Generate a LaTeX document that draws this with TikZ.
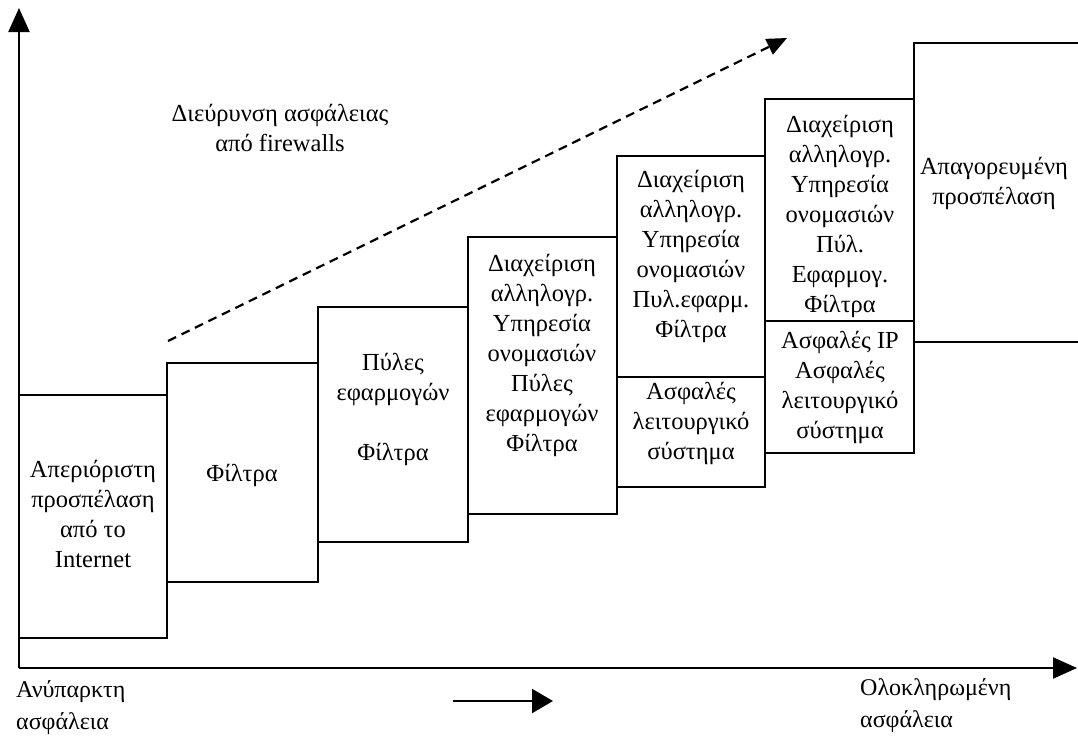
\documentclass[tikz,border=0pt]{standalone}
\usepackage{fontspec}
\setmainfont{Liberation Serif}
\usetikzlibrary{arrows.meta}
\begin{document}
\begin{tikzpicture}[x=1pt,y=-1pt,
  boxline/.style={line width=2pt},
  lbl/.style={font=\fontsize{24.5}{30}\selectfont, align=center, inner sep=0pt},
  axislbl/.style={font=\fontsize{24}{32}\selectfont, align=left, inner sep=0pt, anchor=west},
  axisarrow/.style={line width=2.2pt, -{Triangle[length=24pt,width=21pt]}},
  trendarrow/.style={line width=2.2pt, dash pattern=on 9pt off 6pt, -{Triangle[length=20pt,width=17pt]}},
  smallarrow/.style={line width=2.2pt, -{Triangle[length=21pt,width=24pt]}}
  ]
\useasboundingbox (0,0) rectangle (1078,744);
\fill[white] (0,0) rectangle (1078,744);

% axes
\coordinate (O) at (19,668);
\coordinate (ytop) at (19,8);
\coordinate (xend) at (1077,668);
\draw[axisarrow] (O) -- (ytop);
\draw[axisarrow] (O) -- (xend);

% staircase of boxes
\draw[boxline] (19,395) rectangle (167,638);
\draw[boxline] (167,363) rectangle (318,582);
\draw[boxline] (318,307) rectangle (468,542);
\draw[boxline] (468,237) rectangle (617,514);
\draw[boxline] (617,156) rectangle (765,487);
\draw[boxline] (617,377) -- (765,377);
\draw[boxline] (765,99) rectangle (914,453);
\draw[boxline] (765,321) -- (914,321);
\draw[boxline] (1078,43) -- (914,43) -- (914,342) -- (1078,342);

% box texts
\node[lbl] (t1) at (93,514) {Απεριόριστη\\προσπέλαση\\από το\\Internet};
\node[lbl] (t2) at (242,475) {Φίλτρα};
\node[lbl] (t3) at (393,409) {Πύλες\\εφαρμογών\\~\\Φίλτρα};
\node[lbl] (t4) at (542,355) {Διαχείριση\\αλληλογρ.\\Υπηρεσία\\ονομασιών\\Πύλες\\εφαρμογών\\Φίλτρα};
\node[lbl] (t5a) at (691,256) {Διαχείριση\\αλληλογρ.\\Υπηρεσία\\ονομασιών\\Πυλ.εφαρμ.\\Φίλτρα};
\node[lbl] (t5b) at (691,423) {Ασφαλές\\λειτουργικό\\σύστημα};
\node[lbl] (t6a) at (840,216) {Διαχείριση\\αλληλογρ.\\Υπηρεσία\\ονομασιών\\Πύλ.\\Εφαρμογ.\\Φίλτρα};
\node[lbl] (t6b) at (840,387) {Ασφαλές IP\\Ασφαλές\\λειτουργικό\\σύστημα};
\node[lbl] (t7) at (994,183) {Απαγορευμένη\\προσπέλαση};

% trend
\node[lbl] (trend) at (280,128) {Διεύρυνση ασφάλειας\\από firewalls};
\coordinate (ds) at (168,341);
\coordinate (de) at (787,38);
\draw[trendarrow] (ds) -- (de);

% x axis labels
\node[axislbl] (lo) at (16,708) {Ανύπαρκτη\\ασφάλεια};
\node[axislbl] (hi) at (860,706) {Ολοκληρωμένη\\ασφάλεια};
\coordinate (sa) at (453,701);
\coordinate (sb) at (553,701);
\draw[smallarrow] (sa) -- (sb);
\end{tikzpicture}
\end{document}
